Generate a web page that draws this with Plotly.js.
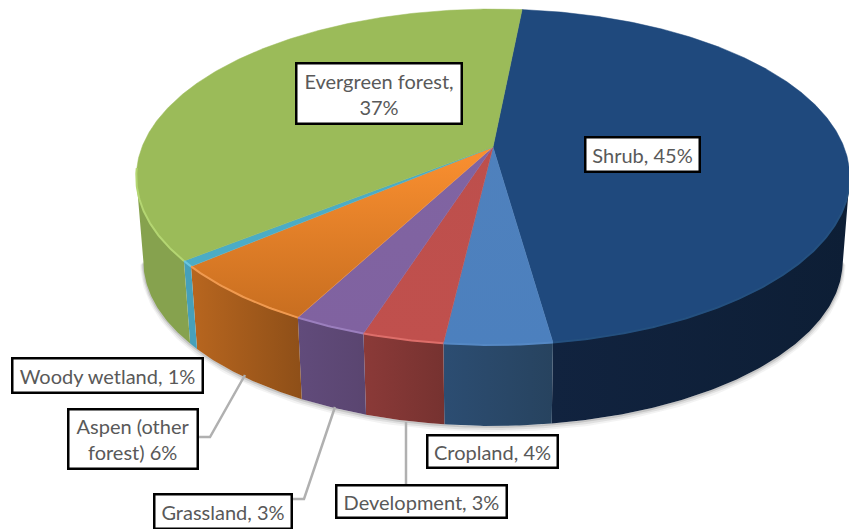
<!DOCTYPE html>
<html>
<head>
<meta charset="utf-8">
<script src="https://cdn.plot.ly/plotly-3.0.1.min.js"></script>
<style>html,body{margin:0;padding:0;background:#fff}#chart{width:849px;height:529px}</style>
</head>
<body>
<div id="chart"></div>
<script>
// Slices, clockwise from the first angle, as measured on the picture
const categories = ["Shrub","Cropland","Development","Grassland","Aspen (other forest)","Woody wetland","Evergreen forest"];
const sliceShares = [46.2, 4.1, 3.1, 2.8, 6.0, 0.55, 37.25];
const labelTexts = ["Shrub, 45%","Cropland, 4%","Development, 3%","Grassland, 3%","Aspen (other<br>forest) 6%","Woody wetland, 1%","Evergreen forest,<br>37%"];
const topColors = ["#1F497D","#4F81BD","#C0504D","#8064A2","#F79646","#4BACC6","#9BBB59"];
const topNearColors = ["#1F497D","#4F81BD","#BD4F4C","#8064A2","#FB9030","#4BACC6","#9BBB59"];
const topRimColors = ["#1F497D","#4C80BE","#C0504D","#8062A0","#C86E20","#4BACC6","#9BBB59"];
const highlightColors = ["#24507F","#5588C4","#DD6E6A","#9B7FBE","#F09A50","#6CC6DE","#B4D672"];
const sideStart = ["#11233F","#2C4D72","#8B3A38","#614B7B","#B8661F","#46A0BA","#86A24E"];
const sideEnd = ["#0D1E35","#27435F","#763230","#5A4570","#8E4F18","#46A0BA","#86A24E"];
const labelBoxes = [[584,700,136,172],[426,558,434,468],[335,507,484,518],[153,292,493,529],[67,198,408,469],[11,203,357,393],[295,462,62,124]];
const leaderLines = [[[198,437],[210,437],[245,375]],[[292,499],[304,499],[335,407]],[[406,484],[406,422]]];

const startAngle = 5.6;
const persp = 0.1786;
const topDisk = {cx:493, cy:147, a:351, b:162.6};
const baseDisk = {cx:493, cy:232, a:344, b:159.3};
const wallFrom = 100.3, wallTo = 259.7;
function project(disk, deg){
  const r = deg*Math.PI/180, u = Math.sin(r), v = -Math.cos(r), w = 1-persp*v;
  return [disk.cx+disk.a*u/w, disk.cy+disk.b*v/w];
}
function arc(disk, from, to){
  const n = Math.max(2, Math.ceil(Math.abs(to-from)*2)), pts = [];
  for(let i=0;i<=n;i++) pts.push(project(disk, from+(to-from)*i/n));
  return pts;
}
const total = sliceShares.reduce((s,x)=>s+x,0);
let acc = startAngle;
const spans = sliceShares.map(s=>{const from=acc; acc+=s/total*360; return [from,acc];});

function poly(pts, extra){
  return Object.assign({type:"scatter", mode:"lines", x:pts.map(p=>p[0]), y:pts.map(p=>p[1]),
    hoverinfo:"skip", showlegend:false}, extra);
}
const traces = [];

// soft drop shadow under the base
[[6,0.07,3],[4,0.12,2],[2,0.2,1]].forEach(s=>{
  const pts = arc(baseDisk,wallFrom,wallTo).map(p=>[p[0],p[1]+s[2]]);
  traces.push(poly(pts,{line:{color:"rgba(90,90,90,"+s[1]+")",width:s[0]}}));
});

// side walls
spans.forEach((sp,i)=>{
  const from = Math.max(sp[0],wallFrom), to = Math.min(sp[1],wallTo);
  if(to<=from) return;
  const upper = arc(topDisk,from,to), lower = arc(baseDisk,from,to).reverse();
  const pts = upper.concat(lower); pts.push(upper[0]);
  const xs = pts.map(p=>p[0]), xLo = Math.min.apply(null,xs), xHi = Math.max.apply(null,xs);
  traces.push(poly(pts,{fill:"toself", line:{color:sideStart[i],width:0},
    fillgradient:{type:"horizontal",start:xLo,stop:xHi,
      colorscale:[[0,sideStart[i]],[1,sideEnd[i]]]}}));
});

// top faces
spans.forEach((sp,i)=>{
  const rim = arc(topDisk,sp[0],sp[1]);
  const pts = [[topDisk.cx,topDisk.cy]].concat(rim,[[topDisk.cx,topDisk.cy]]);
  const ys = pts.map(p=>p[1]), yLo = Math.min.apply(null,ys), yHi = Math.max.apply(null,ys);
  traces.push(poly(pts,{fill:"toself", line:{color:topColors[i],width:0.5},
    fillgradient:{type:"vertical",start:yLo,stop:yHi,
      colorscale:[[0,topNearColors[i]],[1,topRimColors[i]]]}}));
});

// lighter bevel along the near rim
spans.forEach((sp,i)=>{
  const from = Math.max(sp[0],wallFrom), to = Math.min(sp[1],wallTo+3);
  if(to<=from) return;
  traces.push(poly(arc(topDisk,from,to),{line:{color:highlightColors[i],width:2}}));
});

// leader lines
leaderLines.forEach(l=>traces.push(poly(l,{line:{color:"#B0B0B0",width:2.5}})));

const annotations = labelTexts.map((t,i)=>{
  const b = labelBoxes[i];
  return {xref:"x",yref:"y",x:(b[0]+b[1])/2,y:(b[2]+b[3])/2,xanchor:"center",yanchor:"middle",
    text:t,showarrow:false,align:"center",width:b[1]-b[0]-6,height:b[3]-b[2]-6,
    bgcolor:"#FFFFFF",bordercolor:"#000000",borderwidth:2.5,borderpad:1,
    font:{family:"Lato, sans-serif",size:20,color:"#595959"}};
});

Plotly.newPlot("chart",traces,{
  width:849,height:529,margin:{l:0,r:0,t:0,b:0},
  paper_bgcolor:"#FFFFFF",plot_bgcolor:"#FFFFFF",showlegend:false,
  xaxis:{range:[0,849],visible:false,fixedrange:true},
  yaxis:{range:[529,0],visible:false,fixedrange:true},
  annotations:annotations
},{displayModeBar:false,staticPlot:true});
</script>
</body>
</html>
